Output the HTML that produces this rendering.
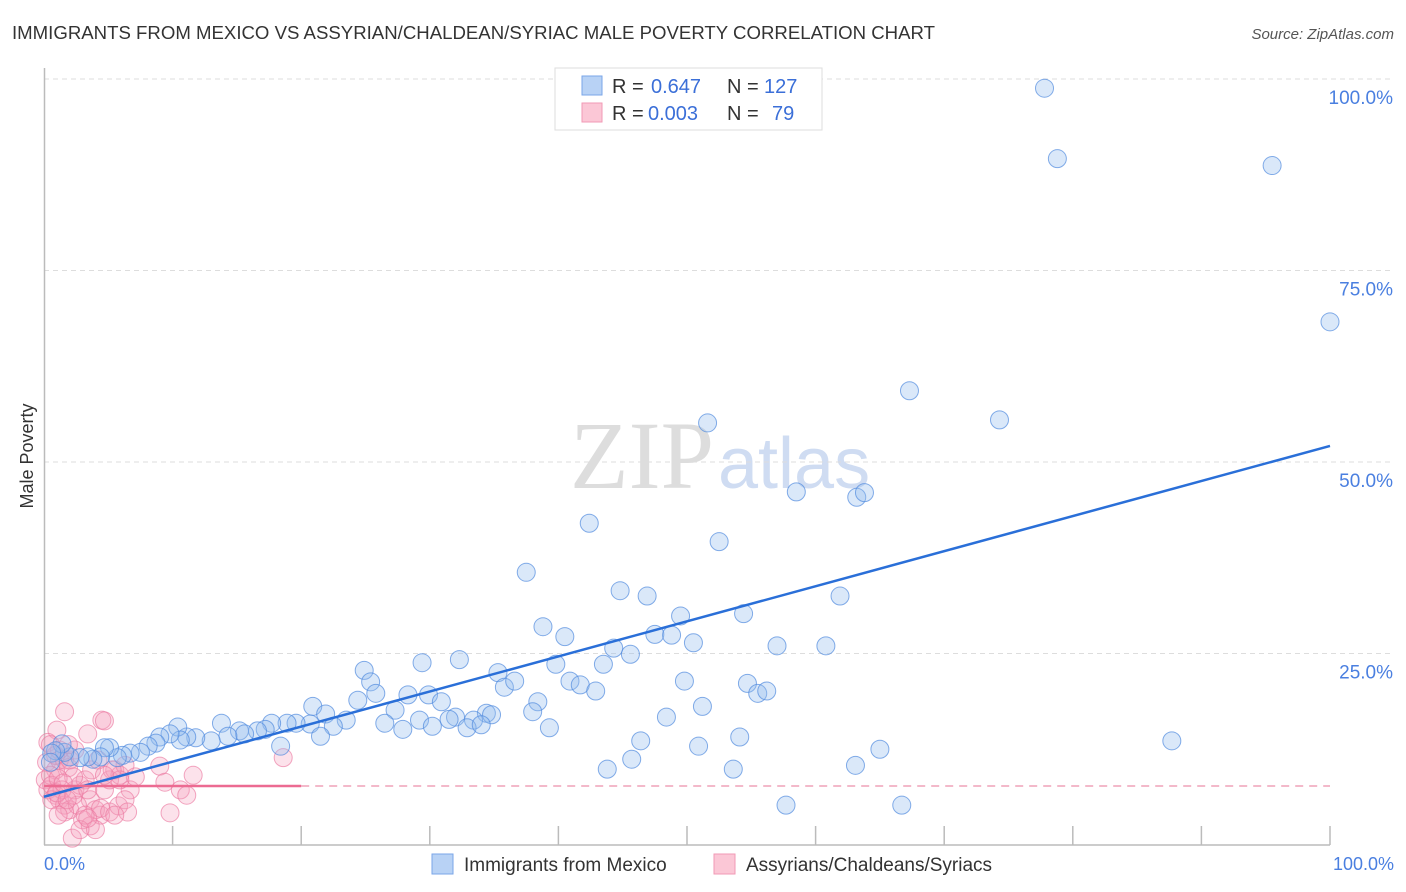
<!DOCTYPE html>
<html><head><meta charset="utf-8"><style>
body{margin:0;background:#fff;font-family:"Liberation Sans",sans-serif;}
svg{display:block}
</style></head><body>
<svg width="1406" height="892" xmlns="http://www.w3.org/2000/svg">
<text x="12" y="39" font-size="18" fill="#333" textLength="923" lengthAdjust="spacingAndGlyphs">IMMIGRANTS FROM MEXICO VS ASSYRIAN/CHALDEAN/SYRIAC MALE POVERTY CORRELATION CHART</text>
<text x="1394" y="39" font-size="15" fill="#555" font-style="italic" text-anchor="end">Source: ZipAtlas.com</text>
<text x="714" y="488" font-size="96" fill="#ddd" font-family="Liberation Serif,serif" text-anchor="end">ZIP</text>
<text x="718" y="488" font-size="72" fill="#cfdcf2" text-anchor="start">atlas</text>
<g id="grid"></g>
<g id="axes"></g>
<g id="pts"></g>
<g id="trend"></g>
<text x="33" y="456" font-size="18" fill="#333" text-anchor="middle" transform="rotate(-90 33 456)">Male Poverty</text>
<text x="44" y="870" font-size="18" fill="#4a7fe0">0.0%</text>
<text x="1394" y="870" font-size="18" fill="#4a7fe0" text-anchor="end">100.0%</text>
<g>
<rect x="555" y="68" width="267" height="62" fill="#fff" stroke="#ddd"/>
<rect x="582" y="76" width="20" height="19" fill="#b8d2f5" stroke="#7aa6e8"/>
<rect x="582" y="103" width="20" height="19" fill="#fbc7d6" stroke="#f29ab5"/>
<text x="612" y="93" font-size="20" fill="#333">R =</text>
<text x="651" y="93" font-size="20" fill="#3b6fd8">0.647</text>
<text x="727" y="93" font-size="20" fill="#333">N =</text>
<text x="764" y="93" font-size="20" fill="#3b6fd8">127</text>
<text x="612" y="120" font-size="20" fill="#333">R =</text>
<text x="648" y="120" font-size="20" fill="#3b6fd8">0.003</text>
<text x="727" y="120" font-size="20" fill="#333">N =</text>
<text x="772" y="120" font-size="20" fill="#3b6fd8">79</text>
</g>
<g>
<rect x="432" y="854" width="21" height="20" fill="#b8d2f5" stroke="#7aa6e8"/>
<text x="464" y="871" font-size="19" fill="#333">Immigrants from Mexico</text>
<rect x="714" y="854" width="21" height="20" fill="#fbc7d6" stroke="#f29ab5"/>
<text x="746" y="871" font-size="19" fill="#333">Assyrians/Chaldeans/Syriacs</text>
</g>
</svg>
<script>
const yTicks=[25,50,75,100];
const yTickLabels=["25.0%","50.0%","75.0%","100.0%"];
const xTicks=[10,20,30,40,50,60,70,80,90,100];
const blueX=[77.8,78.8,95.5,100,67.3,74.3,51.6,58.5,63.2,63.8,42.4,52.5,37.5,44.8,46.9,61.9,49.5,54.4,38.8,40.5,47.5,48.8,50.5,57.0,60.8,44.3,45.6,39.8,43.5,32.3,29.4,24.9,35.3,25.4,25.8,35.8,36.6,40.9,41.7,49.8,54.7,55.5,56.2,42.9,28.3,29.9,24.4,30.9,38.4,27.3,20.9,34.4,38.0,51.2,48.4,29.2,32.0,31.5,33.4,34.8,26.5,23.5,21.9,22.5,27.9,30.2,32.9,34.0,39.3,20.7,21.5,19.6,18.9,17.7,17.2,16.6,15.2,15.6,13.8,14.3,13.0,11.8,11.1,10.4,10.6,9.8,9.0,8.7,8.1,7.5,6.7,6.1,5.7,5.1,4.7,4.4,3.8,3.4,2.8,2.0,1.6,1.4,0.9,0.6,0.5,18.4,46.4,50.9,54.1,65.0,87.7,43.8,45.7,53.6,63.1,57.7,66.7];
const blueY=[98.8,89.6,88.7,68.3,59.3,55.5,55.1,46.1,45.4,46.0,42.0,39.6,35.6,33.2,32.5,32.5,29.9,30.2,28.5,27.2,27.5,27.4,26.4,26.0,26.0,25.7,24.9,23.6,23.6,24.2,23.8,22.8,22.5,21.3,19.8,20.6,21.4,21.4,20.9,21.4,21.1,19.8,20.1,20.1,19.6,19.6,18.9,18.7,18.7,17.6,18.1,17.2,17.4,18.1,16.7,16.3,16.7,16.4,16.3,17.0,15.9,16.3,17.1,15.5,15.1,15.5,15.3,15.7,15.3,15.8,14.2,15.9,15.9,15.9,15.1,14.9,14.9,14.5,15.9,14.2,13.6,14.0,14.1,15.4,13.7,14.5,14.1,13.3,12.9,12.1,12.0,11.7,11.4,12.7,12.7,11.5,11.2,11.5,11.4,11.5,12.1,13.2,12.3,12.0,10.8,12.9,13.6,12.9,14.1,12.5,13.6,9.9,11.2,9.9,10.4,5.2,5.2];
const pinkX=[1.6,4.5,4.7,3.4,1.0,0.3,0.2,1.2,0.9,1.6,2.0,2.4,0.1,0.3,0.9,1.2,1.6,2.0,2.4,2.8,3.2,3.6,4.0,4.4,4.7,5.1,5.5,5.9,6.3,6.7,7.1,9.0,9.4,10.6,11.1,11.6,9.8,18.6,1.2,1.9,2.3,2.6,3.0,3.6,4.0,2.2,1.6,0.5,0.6,1.1,1.4,3.2,4.4,5.1,5.8,6.3,6.5,5.5,5.9,5.3,0.6,0.9,1.9,2.3,3.4,3.7,4.2,4.7,0.5,1.1,2.8,3.4,1.0,1.5,1.8];
const pinkY=[17.4,16.3,16.2,14.5,15.0,13.4,10.8,11.1,9.8,11.1,11.1,12.4,8.5,7.2,6.5,5.9,5.2,4.6,7.2,7.8,8.5,5.9,4.6,3.9,7.2,8.5,9.8,9.1,10.4,7.2,8.9,10.3,8.2,7.2,6.5,9.1,4.2,11.4,12.4,10.1,8.9,5.2,3.3,2.5,2.0,0.9,4.3,9.1,7.8,8.7,7.2,3.9,4.8,4.3,5.1,5.9,4.3,3.9,8.5,9.8,5.9,11.7,13.1,6.5,7.2,9.8,11.1,9.1,13.1,3.9,2.0,3.5,6.8,8.1,5.9];
const blueTrend=[6.3,52.1];
const pinkTrend=[7.7,7.7];
const pinkSolidEnd=20;

const NS="http://www.w3.org/2000/svg";
const X=v=>44+v*12.86, Y=v=>845-v*7.66;
function mk(tag,attrs,parent){const e=document.createElementNS(NS,tag);for(const k in attrs)e.setAttribute(k,attrs[k]);document.getElementById(parent).appendChild(e);return e;}
yTicks.forEach((t,i)=>{
 const l=mk('line',{x1:44,x2:1394,y1:Y(t),y2:Y(t),stroke:'#ddd','stroke-dasharray':'5,4'},'grid');
 
 
 const tx=mk('text',{x:1393,y:Y(t)+25,'font-size':19,fill:'#4a7fe0','text-anchor':'end'},'grid');
 tx.textContent=yTickLabels[i];
 
 
});
let a=mk('line',{x1:44.5,x2:44.5,y1:68,y2:845,stroke:'#bbb','stroke-width':1.5},'axes');


a=mk('line',{x1:44,x2:1330,y1:845,y2:845,stroke:'#bbb','stroke-width':1.5},'axes');


xTicks.forEach(t=>{
 const l=mk('line',{x1:X(t),x2:X(t),y1:826,y2:845,stroke:'#bbb','stroke-width':1.5},'axes');
 
 
});
pinkX.forEach((v,i)=>{
 const c=mk('circle',{cx:X(v),cy:Y(pinkY[i]),r:9,fill:'rgba(245,160,190,0.3)',stroke:'rgba(235,120,160,0.65)','stroke-width':1},'pts');
 
 
});
blueX.forEach((v,i)=>{
 const c=mk('circle',{cx:X(v),cy:Y(blueY[i]),r:9,fill:'rgba(150,188,238,0.35)',stroke:'rgba(80,138,222,0.7)','stroke-width':1},'pts');
 
 
});
let t=mk('line',{x1:X(0),y1:Y(blueTrend[0]),x2:X(100),y2:Y(blueTrend[1]),stroke:'#2a6fd8','stroke-width':2.5},'trend');


const pv=x=>pinkTrend[0]+(pinkTrend[1]-pinkTrend[0])*x/100;
t=mk('line',{x1:X(0),y1:Y(pv(0)),x2:X(pinkSolidEnd),y2:Y(pv(pinkSolidEnd)),stroke:'#ec6b92','stroke-width':2.5},'trend');


t=mk('line',{x1:X(pinkSolidEnd),y1:Y(pv(pinkSolidEnd)),x2:X(100),y2:Y(pv(100)),stroke:'#ec8faa','stroke-width':1.2,'stroke-dasharray':'8,6'},'trend');


</script>
</body></html>
